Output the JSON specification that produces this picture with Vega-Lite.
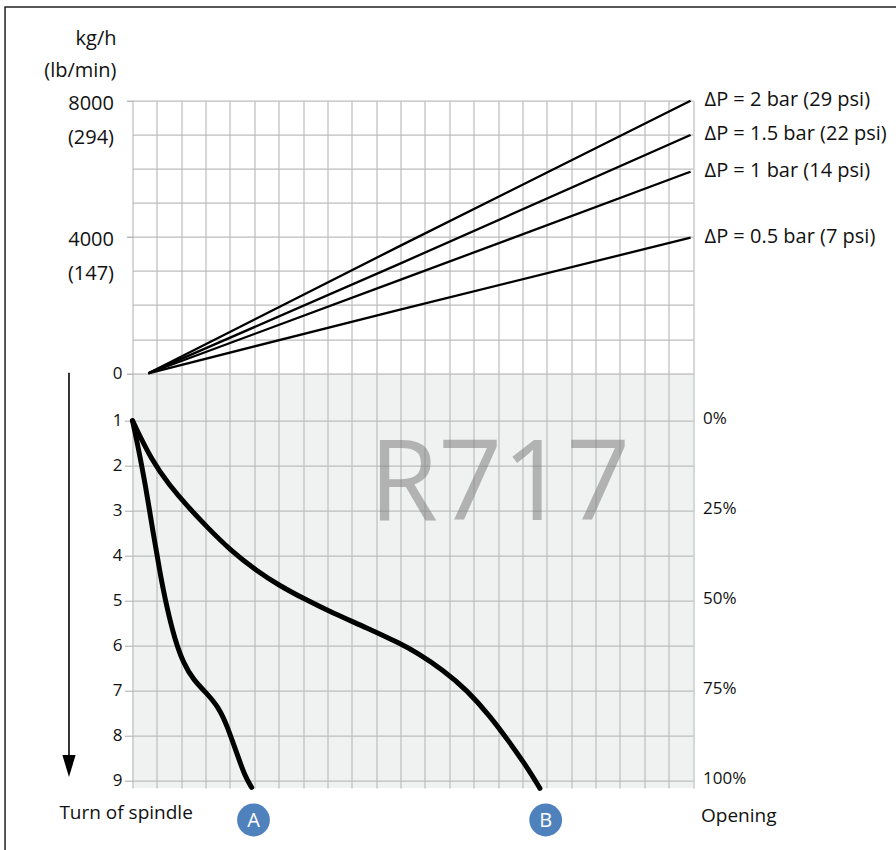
{
  "$schema": "https://vega.github.io/schema/vega-lite/v6.json",
  "width": 560.5,
  "height": 687.3,
  "autosize": {"type": "none"},
  "padding": {"left": 132.5, "top": 100.7, "right": 203, "bottom": 62},
  "background": "white",
  "data": {"values": [{"note": "annotation"}]},
  "config": {
    "view": {"stroke": null},
    "font": "Open Sans",
    "text": {"font": "Open Sans", "color": "#111"},
    "axis": {"labelFont": "Open Sans", "labelColor": "#111", "gridColor": "#bdbdbd", "gridWidth": 1.2, "domain": false, "tickColor": "#999", "labelOverlap": false, "labelFlush": false, "labelBound": false}
  },
  "datasets": {
    "flow": [
      {"series": "ΔP = 2 bar (29 psi)", "col": 0.65, "kg": 0},
      {"series": "ΔP = 2 bar (29 psi)", "col": 10.98, "kg": 3740},
      {"series": "ΔP = 2 bar (29 psi)", "col": 22.9, "kg": 8000},
      {"series": "ΔP = 1.5 bar (22 psi)", "col": 0.65, "kg": 0},
      {"series": "ΔP = 1.5 bar (22 psi)", "col": 10.98, "kg": 3220},
      {"series": "ΔP = 1.5 bar (22 psi)", "col": 22.9, "kg": 6993},
      {"series": "ΔP = 1 bar (14 psi)", "col": 0.65, "kg": 0},
      {"series": "ΔP = 1 bar (14 psi)", "col": 10.98, "kg": 2740},
      {"series": "ΔP = 1 bar (14 psi)", "col": 22.9, "kg": 5916},
      {"series": "ΔP = 0.5 bar (7 psi)", "col": 0.65, "kg": 0},
      {"series": "ΔP = 0.5 bar (7 psi)", "col": 10.98, "kg": 1870},
      {"series": "ΔP = 0.5 bar (7 psi)", "col": 22.9, "kg": 3980}
    ],
    "curves": [
      {"curve": "A", "col": 0, "turn": 1},
      {"curve": "A", "col": 0.2, "turn": 1.5},
      {"curve": "A", "col": 0.52, "turn": 2.39},
      {"curve": "A", "col": 0.85, "turn": 3.5},
      {"curve": "A", "col": 1.13, "turn": 4.39},
      {"curve": "A", "col": 1.4, "turn": 5.13},
      {"curve": "A", "col": 1.74, "turn": 5.87},
      {"curve": "A", "col": 2.09, "turn": 6.39},
      {"curve": "A", "col": 2.5, "turn": 6.76},
      {"curve": "A", "col": 3.05, "turn": 7.06},
      {"curve": "A", "col": 3.52, "turn": 7.36},
      {"curve": "A", "col": 3.87, "turn": 7.76},
      {"curve": "A", "col": 4.28, "turn": 8.39},
      {"curve": "A", "col": 4.62, "turn": 8.91},
      {"curve": "A", "col": 4.89, "turn": 9.15},
      {"curve": "B", "col": 0, "turn": 1},
      {"curve": "B", "col": 0.8, "turn": 1.9},
      {"curve": "B", "col": 1.54, "turn": 2.45},
      {"curve": "B", "col": 2.22, "turn": 2.88},
      {"curve": "B", "col": 3.05, "turn": 3.36},
      {"curve": "B", "col": 4.0, "turn": 3.87},
      {"curve": "B", "col": 5.1, "turn": 4.34},
      {"curve": "B", "col": 6.05, "turn": 4.67},
      {"curve": "B", "col": 7.01, "turn": 4.95},
      {"curve": "B", "col": 8.24, "turn": 5.28},
      {"curve": "B", "col": 9.61, "turn": 5.6},
      {"curve": "B", "col": 10.98, "turn": 5.95},
      {"curve": "B", "col": 11.66, "turn": 6.15},
      {"curve": "B", "col": 12.75, "turn": 6.54},
      {"curve": "B", "col": 13.71, "turn": 6.98},
      {"curve": "B", "col": 14.67, "turn": 7.56},
      {"curve": "B", "col": 15.49, "turn": 8.16},
      {"curve": "B", "col": 16.18, "turn": 8.69},
      {"curve": "B", "col": 16.72, "turn": 9.17}
    ],
    "pct": [
      {"turn": 1, "label": "0%"},
      {"turn": 3, "label": "25%"},
      {"turn": 5, "label": "50%"},
      {"turn": 7, "label": "75%"},
      {"turn": 9, "label": "100%"}
    ],
    "badges": [
      {"name": "A", "col": 4.965, "turn": 9.873},
      {"name": "B", "col": 16.955, "turn": 9.873}
    ]
  },
  "layer": [
    {
      "layer": [
        {
          "mark": {"type": "rect", "fillOpacity": 0, "stroke": "#222", "strokeWidth": 1.5},
          "encoding": {
            "x": {"datum": -5.23, "type": "quantitative", "scale": {"domain": [0, 23], "nice": false, "zero": false},
                  "axis": {"values": [0,1,2,3,4,5,6,7,8,9,10,11,12,13,14,15,16,17,18,19,20,21,22,23], "grid": true, "labels": false, "ticks": false, "domain": false, "title": null}},
            "x2": {"datum": 40},
            "y": {"datum": 10750, "type": "quantitative", "scale": {"domain": [-12170, 8000], "nice": false, "zero": false},
                  "axis": {
                    "orient": "left",
                    "values": [0, 1000, 2000, 3000, 4000, 5000, 6000, 7000, 8000],
                    "grid": true,
                    "domain": false,
                    "tickSize": 6,
                    "tickColor": "#999",
                    "tickOpacity": {"condition": {"test": "datum.value % 4000 === 0", "value": 1}, "value": 0},
                    "labelExpr": "datum.value === 8000 ? '8000' : datum.value === 7000 ? '(294)' : datum.value === 4000 ? '4000' : datum.value === 3000 ? '(147)' : datum.value === 0 ? '0' : ''",
                    "labelFontSize": {"condition": {"test": "datum.value === 0", "value": 17}, "value": 20},
                    "labelPadding": {"condition": {"test": "datum.value === 0", "value": 4.5}, "value": 13},
                    "labelOffset": {"condition": {"test": "datum.value === 0", "value": 0.5}, "value": 2.5},
                    "labelBaseline": "middle",
                    "title": ["kg/h", "(lb/min)"],
                    "titleAngle": 0,
                    "titleAlign": "right",
                    "titleBaseline": "alphabetic",
                    "titleX": -16.5,
                    "titleY": -55.7,
                    "titleLineHeight": 31,
                    "titleFont": "Open Sans",
                    "titleFontSize": 20,
                    "titleFontWeight": "normal",
                    "titleColor": "#111"
                  }},
            "y2": {"datum": -20000}
          }
        },
        {
          "mark": {"type": "rect", "fill": "#bec2c2", "opacity": 0.23},
          "encoding": {
            "x": {"datum": 0, "type": "quantitative", "scale": {"domain": [0, 23], "nice": false, "zero": false},
                  "axis": {"values": [0,1,2,3,4,5,6,7,8,9,10,11,12,13,14,15,16,17,18,19,20,21,22,23], "grid": true, "labels": false, "ticks": false, "domain": false, "title": null}},
            "x2": {"datum": 23},
            "y": {"datum": 0, "type": "quantitative", "scale": {"domain": [-12170, 8000], "nice": false, "zero": false},
                  "axis": {
                    "orient": "left",
                    "values": [0, 1000, 2000, 3000, 4000, 5000, 6000, 7000, 8000],
                    "grid": true,
                    "domain": false,
                    "tickSize": 6,
                    "tickColor": "#999",
                    "tickOpacity": {"condition": {"test": "datum.value % 4000 === 0", "value": 1}, "value": 0},
                    "labelExpr": "datum.value === 8000 ? '8000' : datum.value === 7000 ? '(294)' : datum.value === 4000 ? '4000' : datum.value === 3000 ? '(147)' : datum.value === 0 ? '0' : ''",
                    "labelFontSize": {"condition": {"test": "datum.value === 0", "value": 17}, "value": 20},
                    "labelPadding": {"condition": {"test": "datum.value === 0", "value": 4.5}, "value": 13},
                    "labelOffset": {"condition": {"test": "datum.value === 0", "value": 0.5}, "value": 2.5},
                    "labelBaseline": "middle",
                    "title": ["kg/h", "(lb/min)"],
                    "titleAngle": 0,
                    "titleAlign": "right",
                    "titleBaseline": "alphabetic",
                    "titleX": -16.5,
                    "titleY": -55.7,
                    "titleLineHeight": 31,
                    "titleFont": "Open Sans",
                    "titleFontSize": 20,
                    "titleFontWeight": "normal",
                    "titleColor": "#111"
                  }},
            "y2": {"datum": -12170}
          }
        },
        {
          "data": {"name": "flow"},
          "mark": {"type": "line", "color": "#000", "strokeWidth": 2.3, "interpolate": "monotone"},
          "encoding": {
            "x": {"field": "col", "type": "quantitative", "scale": {"domain": [0, 23], "nice": false, "zero": false},
                  "axis": {"values": [0,1,2,3,4,5,6,7,8,9,10,11,12,13,14,15,16,17,18,19,20,21,22,23], "grid": true, "labels": false, "ticks": false, "domain": false, "title": null}},
            "y": {"field": "kg", "type": "quantitative", "scale": {"domain": [-12170, 8000], "nice": false, "zero": false},
                  "axis": {
                    "orient": "left",
                    "values": [0, 1000, 2000, 3000, 4000, 5000, 6000, 7000, 8000],
                    "grid": true,
                    "domain": false,
                    "tickSize": 6,
                    "tickColor": "#999",
                    "tickOpacity": {"condition": {"test": "datum.value % 4000 === 0", "value": 1}, "value": 0},
                    "labelExpr": "datum.value === 8000 ? '8000' : datum.value === 7000 ? '(294)' : datum.value === 4000 ? '4000' : datum.value === 3000 ? '(147)' : datum.value === 0 ? '0' : ''",
                    "labelFontSize": {"condition": {"test": "datum.value === 0", "value": 17}, "value": 20},
                    "labelPadding": {"condition": {"test": "datum.value === 0", "value": 4.5}, "value": 13},
                    "labelOffset": {"condition": {"test": "datum.value === 0", "value": 0.5}, "value": 2.5},
                    "labelBaseline": "middle",
                    "title": ["kg/h", "(lb/min)"],
                    "titleAngle": 0,
                    "titleAlign": "right",
                    "titleBaseline": "alphabetic",
                    "titleX": -16.5,
                    "titleY": -55.7,
                    "titleLineHeight": 31,
                    "titleFont": "Open Sans",
                    "titleFontSize": 20,
                    "titleFontWeight": "normal",
                    "titleColor": "#111"
                  }},
            "detail": {"field": "series"}
          }
        },
        {
          "data": {"name": "flow"},
          "transform": [{"filter": "datum.col >= 22.9"}],
          "mark": {"type": "text", "align": "left", "baseline": "middle", "dx": 14, "dy": -1, "fontSize": 20, "font": "Open Sans", "color": "#111"},
          "encoding": {
            "x": {"field": "col", "type": "quantitative", "scale": {"domain": [0, 23], "nice": false, "zero": false},
                  "axis": {"values": [0,1,2,3,4,5,6,7,8,9,10,11,12,13,14,15,16,17,18,19,20,21,22,23], "grid": true, "labels": false, "ticks": false, "domain": false, "title": null}},
            "y": {"field": "kg", "type": "quantitative", "scale": {"domain": [-12170, 8000], "nice": false, "zero": false},
                  "axis": {
                    "orient": "left",
                    "values": [0, 1000, 2000, 3000, 4000, 5000, 6000, 7000, 8000],
                    "grid": true,
                    "domain": false,
                    "tickSize": 6,
                    "tickColor": "#999",
                    "tickOpacity": {"condition": {"test": "datum.value % 4000 === 0", "value": 1}, "value": 0},
                    "labelExpr": "datum.value === 8000 ? '8000' : datum.value === 7000 ? '(294)' : datum.value === 4000 ? '4000' : datum.value === 3000 ? '(147)' : datum.value === 0 ? '0' : ''",
                    "labelFontSize": {"condition": {"test": "datum.value === 0", "value": 17}, "value": 20},
                    "labelPadding": {"condition": {"test": "datum.value === 0", "value": 4.5}, "value": 13},
                    "labelOffset": {"condition": {"test": "datum.value === 0", "value": 0.5}, "value": 2.5},
                    "labelBaseline": "middle",
                    "title": ["kg/h", "(lb/min)"],
                    "titleAngle": 0,
                    "titleAlign": "right",
                    "titleBaseline": "alphabetic",
                    "titleX": -16.5,
                    "titleY": -55.7,
                    "titleLineHeight": 31,
                    "titleFont": "Open Sans",
                    "titleFontSize": 20,
                    "titleFontWeight": "normal",
                    "titleColor": "#111"
                  }},
            "text": {"field": "series"}
          }
        }
      ]
    },
    {
      "layer": [
        {
          "mark": {"type": "text", "text": "R717", "align": "center", "baseline": "alphabetic", "fontSize": 112, "font": "Open Sans", "color": "#808080", "opacity": 0.55},
          "encoding": {
            "x": {"datum": 15.07, "type": "quantitative", "scale": {"domain": [0, 23], "nice": false, "zero": false},
                  "axis": {"values": [0,1,2,3,4,5,6,7,8,9,10,11,12,13,14,15,16,17,18,19,20,21,22,23], "grid": true, "labels": false, "ticks": false, "domain": false, "title": null}},
            "y": {"datum": 3.207, "type": "quantitative", "scale": {"domain": [-6.111, 9.162], "reverse": true, "nice": false, "zero": false},
                  "axis": {"orient": "left", "values": [1, 2, 3, 4, 5, 6, 7, 8, 9], "grid": true, "domain": false, "tickSize": 8, "tickColor": "#aaa", "labelFontSize": 17, "labelPadding": 2.5, "labelBaseline": "middle", "labelColor": "#111", "title": null}}
          }
        },
        {
          "data": {"name": "curves"},
          "mark": {"type": "line", "color": "#000", "strokeWidth": 5, "interpolate": "basis", "strokeCap": "round", "strokeJoin": "round"},
          "encoding": {
            "x": {"field": "col", "type": "quantitative", "scale": {"domain": [0, 23], "nice": false, "zero": false},
                  "axis": {"values": [0,1,2,3,4,5,6,7,8,9,10,11,12,13,14,15,16,17,18,19,20,21,22,23], "grid": true, "labels": false, "ticks": false, "domain": false, "title": null}},
            "y": {"field": "turn", "type": "quantitative", "scale": {"domain": [-6.111, 9.162], "reverse": true, "nice": false, "zero": false},
                  "axis": {"orient": "left", "values": [1, 2, 3, 4, 5, 6, 7, 8, 9], "grid": true, "domain": false, "tickSize": 8, "tickColor": "#aaa", "labelFontSize": 17, "labelPadding": 2.5, "labelBaseline": "middle", "labelColor": "#111", "title": null}},
            "detail": {"field": "curve"},
            "order": {"field": "turn", "type": "quantitative"}
          }
        },
        {
          "data": {"name": "pct"},
          "mark": {"type": "text", "align": "left", "baseline": "middle", "dx": 10, "dy": -1.5, "fontSize": 17, "font": "Open Sans", "color": "#111"},
          "encoding": {
            "x": {"datum": 23, "type": "quantitative", "scale": {"domain": [0, 23], "nice": false, "zero": false},
                  "axis": {"values": [0,1,2,3,4,5,6,7,8,9,10,11,12,13,14,15,16,17,18,19,20,21,22,23], "grid": true, "labels": false, "ticks": false, "domain": false, "title": null}},
            "y": {"field": "turn", "type": "quantitative", "scale": {"domain": [-6.111, 9.162], "reverse": true, "nice": false, "zero": false},
                  "axis": {"orient": "left", "values": [1, 2, 3, 4, 5, 6, 7, 8, 9], "grid": true, "domain": false, "tickSize": 8, "tickColor": "#aaa", "labelFontSize": 17, "labelPadding": 2.5, "labelBaseline": "middle", "labelColor": "#111", "title": null}},
            "text": {"field": "label"}
          }
        },
        {
          "mark": {"type": "rule", "color": "#000", "strokeWidth": 1.6},
          "encoding": {
            "x": {"datum": -2.606, "type": "quantitative", "scale": {"domain": [0, 23], "nice": false, "zero": false},
                  "axis": {"values": [0,1,2,3,4,5,6,7,8,9,10,11,12,13,14,15,16,17,18,19,20,21,22,23], "grid": true, "labels": false, "ticks": false, "domain": false, "title": null}},
            "y": {"datum": -0.067, "type": "quantitative", "scale": {"domain": [-6.111, 9.162], "reverse": true, "nice": false, "zero": false},
                  "axis": {"orient": "left", "values": [1, 2, 3, 4, 5, 6, 7, 8, 9], "grid": true, "domain": false, "tickSize": 8, "tickColor": "#aaa", "labelFontSize": 17, "labelPadding": 2.5, "labelBaseline": "middle", "labelColor": "#111", "title": null}},
            "y2": {"datum": 8.6}
          }
        },
        {
          "mark": {"type": "point", "shape": "M-0.6,-1L0.6,-1L0,1Z", "filled": true, "color": "#000", "opacity": 1, "size": 484},
          "encoding": {
            "x": {"datum": -2.606, "type": "quantitative", "scale": {"domain": [0, 23], "nice": false, "zero": false},
                  "axis": {"values": [0,1,2,3,4,5,6,7,8,9,10,11,12,13,14,15,16,17,18,19,20,21,22,23], "grid": true, "labels": false, "ticks": false, "domain": false, "title": null}},
            "y": {"datum": 8.675, "type": "quantitative", "scale": {"domain": [-6.111, 9.162], "reverse": true, "nice": false, "zero": false},
                  "axis": {"orient": "left", "values": [1, 2, 3, 4, 5, 6, 7, 8, 9], "grid": true, "domain": false, "tickSize": 8, "tickColor": "#aaa", "labelFontSize": 17, "labelPadding": 2.5, "labelBaseline": "middle", "labelColor": "#111", "title": null}}
          }
        },
        {
          "mark": {"type": "text", "text": "Turn of spindle", "align": "left", "baseline": "alphabetic", "fontSize": 19, "font": "Open Sans", "color": "#111"},
          "encoding": {
            "x": {"datum": -3.0, "type": "quantitative", "scale": {"domain": [0, 23], "nice": false, "zero": false},
                  "axis": {"values": [0,1,2,3,4,5,6,7,8,9,10,11,12,13,14,15,16,17,18,19,20,21,22,23], "grid": true, "labels": false, "ticks": false, "domain": false, "title": null}},
            "y": {"datum": 9.858, "type": "quantitative", "scale": {"domain": [-6.111, 9.162], "reverse": true, "nice": false, "zero": false},
                  "axis": {"orient": "left", "values": [1, 2, 3, 4, 5, 6, 7, 8, 9], "grid": true, "domain": false, "tickSize": 8, "tickColor": "#aaa", "labelFontSize": 17, "labelPadding": 2.5, "labelBaseline": "middle", "labelColor": "#111", "title": null}}
          }
        },
        {
          "mark": {"type": "text", "text": "Opening", "align": "left", "baseline": "alphabetic", "fontSize": 19, "font": "Open Sans", "color": "#111", "dx": 8},
          "encoding": {
            "x": {"datum": 23, "type": "quantitative", "scale": {"domain": [0, 23], "nice": false, "zero": false},
                  "axis": {"values": [0,1,2,3,4,5,6,7,8,9,10,11,12,13,14,15,16,17,18,19,20,21,22,23], "grid": true, "labels": false, "ticks": false, "domain": false, "title": null}},
            "y": {"datum": 9.911, "type": "quantitative", "scale": {"domain": [-6.111, 9.162], "reverse": true, "nice": false, "zero": false},
                  "axis": {"orient": "left", "values": [1, 2, 3, 4, 5, 6, 7, 8, 9], "grid": true, "domain": false, "tickSize": 8, "tickColor": "#aaa", "labelFontSize": 17, "labelPadding": 2.5, "labelBaseline": "middle", "labelColor": "#111", "title": null}}
          }
        },
        {
          "data": {"name": "badges"},
          "mark": {"type": "point", "shape": "circle", "filled": true, "color": "#4f81bd", "opacity": 1, "size": 1075},
          "encoding": {
            "x": {"field": "col", "type": "quantitative", "scale": {"domain": [0, 23], "nice": false, "zero": false},
                  "axis": {"values": [0,1,2,3,4,5,6,7,8,9,10,11,12,13,14,15,16,17,18,19,20,21,22,23], "grid": true, "labels": false, "ticks": false, "domain": false, "title": null}},
            "y": {"field": "turn", "type": "quantitative", "scale": {"domain": [-6.111, 9.162], "reverse": true, "nice": false, "zero": false},
                  "axis": {"orient": "left", "values": [1, 2, 3, 4, 5, 6, 7, 8, 9], "grid": true, "domain": false, "tickSize": 8, "tickColor": "#aaa", "labelFontSize": 17, "labelPadding": 2.5, "labelBaseline": "middle", "labelColor": "#111", "title": null}}
          }
        },
        {
          "data": {"name": "badges"},
          "mark": {"type": "text", "align": "center", "baseline": "middle", "fontSize": 20, "font": "Open Sans", "color": "#ffffff", "dy": 1},
          "encoding": {
            "x": {"field": "col", "type": "quantitative", "scale": {"domain": [0, 23], "nice": false, "zero": false},
                  "axis": {"values": [0,1,2,3,4,5,6,7,8,9,10,11,12,13,14,15,16,17,18,19,20,21,22,23], "grid": true, "labels": false, "ticks": false, "domain": false, "title": null}},
            "y": {"field": "turn", "type": "quantitative", "scale": {"domain": [-6.111, 9.162], "reverse": true, "nice": false, "zero": false},
                  "axis": {"orient": "left", "values": [1, 2, 3, 4, 5, 6, 7, 8, 9], "grid": true, "domain": false, "tickSize": 8, "tickColor": "#aaa", "labelFontSize": 17, "labelPadding": 2.5, "labelBaseline": "middle", "labelColor": "#111", "title": null}},
            "text": {"field": "name"}
          }
        }
      ]
    }
  ],
  "resolve": {"scale": {"y": "independent"}, "axis": {"y": "independent"}}
}
